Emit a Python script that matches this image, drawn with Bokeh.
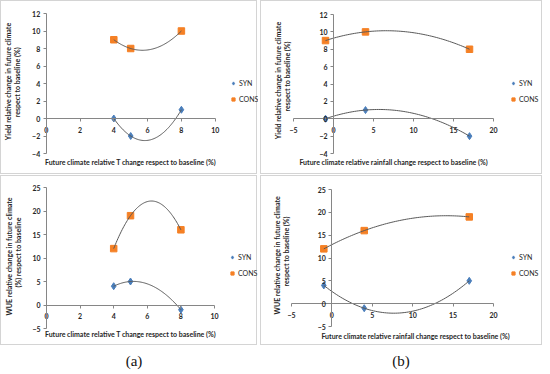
import numpy as np
from math import pi
from bokeh.plotting import figure
from bokeh.models import LinearAxis, FixedTicker, Legend, LegendItem, Div, Range1d, Label
from bokeh.layouts import column, row
from bokeh.embed import file_html
from bokeh.resources import INLINE

# ---------------- data ----------------
t_change = [4, 5, 8]
rain_change = [-1, 4, 17]

yield_syn_t = [0, -2, 1]
yield_cons_t = [9, 8, 10]
yield_syn_r = [0, 1, -2]
yield_cons_r = [9, 10, 8]

wue_syn_t = [4, 5, -1]
wue_cons_t = [12, 19, 16]
wue_syn_r = [4, -1, 5]
wue_cons_r = [12, 16, 19]

t_ticks = [0, 2, 4, 6, 8, 10]
rain_ticks = [-5, 0, 5, 10, 15, 20]
yield_ticks = [-4, -2, 0, 2, 4, 6, 8, 10, 12]
wue_ticks = [-5, 0, 5, 10, 15, 20, 25]

series_names = ["SYN", "CONS"]
panel_labels = ["(a)", "(b)"]
x_title_t = "Future climate relative T change respect to baseline (%)"
x_title_r = "Future climate relative rainfall change respect to baseline (%)"
y_title_yield_a = ["Yield relative change in future climate", "respect to baseline  (%)"]
y_title_yield_b = ["Yield relative change in future climate", "respect to baseline (%)"]
y_title_wue_a = ["WUE relative change in future climate", "(%) respect to baseline"]
y_title_wue_b = ["WUE  relative change in future climate", "respect to baseline (%)"]

# ---------------- style ----------------
FONT = "Lato"
SYN_COLOR = "#4A7EBB"
CONS_COLOR = "#F58025"
TREND_COLOR = "#595959"
AXIS_COLOR = "#868686"
TEXT_COLOR = "#262626"
FS = "7px"


def make_panel(x, syn, cons, xticks, yticks, ytitle, xtitle,
               W, H, px_l, px_r, py_t, py_b, legend_loc, ytitle_pos, xtitle_pos):
    x0, x1 = xticks[0], xticks[-1]
    y0, y1 = yticks[0], yticks[-1]
    ppx = (px_r - px_l) / (x1 - x0)
    ppy = (py_b - py_t) / (y1 - y0)
    xr = Range1d(x0 - px_l / ppx, x0 + (W - px_l) / ppx)
    yr = Range1d(y0 - (H - py_b) / ppy, y1 + py_t / ppy)
    p = figure(width=W, height=H, x_range=xr, y_range=yr,
               x_axis_type=None, y_axis_type=None,
               toolbar_location=None, output_backend="svg",
               min_border=0, styles={"border": "1px solid #d4d4d4"})
    p.outline_line_color = None

    xa = LinearAxis(ticker=FixedTicker(ticks=xticks), fixed_location=0, bounds=(x0, x1))
    ya = LinearAxis(ticker=FixedTicker(ticks=yticks), fixed_location=0, bounds=(y0, y1))
    for a in (xa, ya):
        a.axis_line_color = AXIS_COLOR
        a.major_tick_line_color = AXIS_COLOR
        a.major_tick_in = 0
        a.major_tick_out = 3
        a.minor_tick_line_color = None
        a.major_label_text_font = FONT
        a.major_label_text_font_size = FS
        a.major_label_text_font_style = "bold"
        a.major_label_text_color = TEXT_COLOR
    xa.major_label_standoff = 5
    ya.major_label_standoff = 3
    p.add_layout(xa, "below")
    p.add_layout(ya, "left")

    rs = p.scatter(x, syn, marker="diamond", size=7, color=SYN_COLOR)
    rc = p.scatter(x, cons, marker="square", size=6.5, color=CONS_COLOR)

    xs = np.linspace(min(x), max(x), 80)
    for ys in (syn, cons):
        c = np.polyfit(x, ys, 2)
        p.line(xs, np.polyval(c, xs), line_color=TREND_COLOR, line_width=1)

    leg = Legend(items=[LegendItem(label=series_names[0], renderers=[rs]),
                        LegendItem(label=series_names[1], renderers=[rc])],
                 location=legend_loc, glyph_width=8, glyph_height=8,
                 label_standoff=2, spacing=8, padding=0, margin=0,
                 border_line_color=None, background_fill_alpha=0,
                 label_text_font=FONT, label_text_font_size=FS,
                 label_text_color=TEXT_COLOR, label_height=8)
    p.add_layout(leg)

    # text positions: x from the left edge, y from the top edge of the panel
    for txt, (lx, ly) in zip(ytitle, ytitle_pos):
        p.add_layout(Label(x=lx, y=H - ly, x_units="screen", y_units="screen", text=txt,
                           angle=pi / 2, text_align="center", text_baseline="middle",
                           text_font=FONT, text_font_size=FS, text_font_style="bold",
                           text_color=TEXT_COLOR))
    p.add_layout(Label(x=xtitle_pos[0], y=H - xtitle_pos[1], x_units="screen", y_units="screen",
                       text=xtitle, text_align="center", text_baseline="middle",
                       text_font=FONT, text_font_size=FS, text_font_style="bold",
                       text_color=TEXT_COLOR))
    return p


tl = make_panel(t_change, yield_syn_t, yield_cons_t, t_ticks, yield_ticks,
                y_title_yield_a, x_title_t,
                257, 174, 44.7, 213.7, 12, 152, (228, 72),
                [(6.5, 80), (15, 80)], (129, 160))
tr = make_panel(rain_change, yield_syn_r, yield_cons_r, rain_ticks, yield_ticks,
                y_title_yield_b, x_title_r,
                282, 174, 32, 232, 13, 152, (248, 72),
                [(16, 79), (25, 75)], (132, 160))
bl = make_panel(t_change, wue_syn_t, wue_cons_t, t_ticks, wue_ticks,
                y_title_wue_a, x_title_t,
                257, 170, 45, 213, 11, 152, (227, 69),
                [(7, 80), (16, 76)], (129, 157))
br = make_panel(rain_change, wue_syn_r, wue_cons_r, rain_ticks, wue_ticks,
                y_title_wue_b, x_title_r,
                282, 170, 30, 232, 13, 150, (248, 69),
                [(15, 78), (24, 75)], (154, 159))

lab_html = ("<div style='line-height:1;margin-top:1px'>"
            "<span style='display:inline-block;width:258px;text-align:center'>%s</span>"
            "<span style='display:inline-block;width:276px;text-align:center'>%s</span>"
            "</div>") % (panel_labels[0], panel_labels[1])
labels_div = Div(text=lab_html, width=542, height=22,
                 styles={"font-family": "Liberation Serif", "font-size": "15px",
                         "color": "#111111"})

layout = column(row(tl, tr, spacing=3), row(bl, br, spacing=3), labels_div, spacing=1)

open("out.html", "w").write(file_html(layout, INLINE))
